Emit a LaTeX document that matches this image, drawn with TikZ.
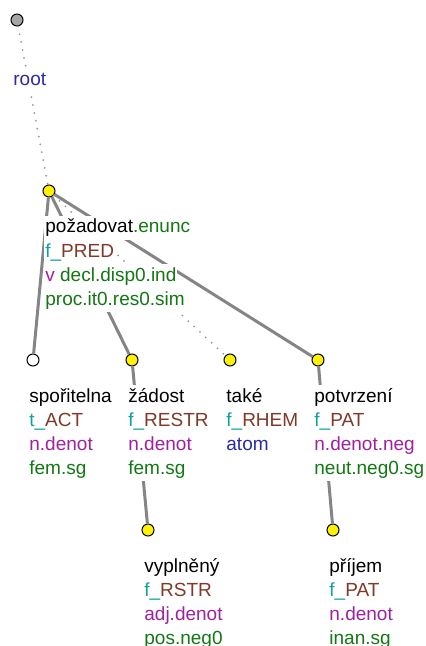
\documentclass[tikz,border=0pt]{standalone}
\usepackage{fontspec}
\setmainfont{Liberation Sans}
\usepackage{xcolor}
\usetikzlibrary{calc}
\definecolor{wordgreen}{HTML}{137813}
\definecolor{functeal}{HTML}{10A0A0}
\definecolor{funcbrown}{HTML}{803828}
\definecolor{sempurple}{HTML}{A020A0}
\definecolor{rootblue}{HTML}{2A2AA8}
\definecolor{edgegray}{HTML}{858585}

\newcommand{\fnlab}[2]{\textcolor{functeal}{#1\_}\textcolor{funcbrown}{#2}}

\begin{document}
\begin{tikzpicture}[
    x=0.5pt, y=-0.5pt,
    every node/.style={font=\fontsize{9.5}{12}\selectfont},
    tnode/.style={circle, draw, line width=0.5pt, minimum size=6pt,
                  inner sep=0pt, fill=yellow},
    lbl/.style={anchor=base west, fill=white, inner xsep=0.5pt, inner ysep=0pt,
                text height=8.5pt, text depth=3.5pt},
    tedge/.style={draw=edgegray, line width=1.5pt},
    tdots/.style={draw=edgegray!85, line width=1pt, line cap=round,
                  dash pattern=on 0pt off 4pt}
]
\useasboundingbox (0,0) rectangle (425,646);

% ── Tree nodes ────────────────────────────────────────────────────────────
\node[tnode, fill=black!35] (root) at (17, 20) {};
\node[tnode] (pozad)  at (49, 191) {};
\node[tnode, fill=white] (spor) at (33, 360) {};
\node[tnode] (zadost) at (132, 360) {};
\node[tnode] (take)   at (230, 360) {};
\node[tnode] (potvr)  at (318, 360) {};
\node[tnode] (vypln)  at (148, 530) {};
\node[tnode] (prijem) at (333, 530) {};

% ── Edges ─────────────────────────────────────────────────────────────────
\draw[tdots] (root) -- (pozad);
\draw[tedge] (pozad) -- (spor);
\draw[tedge] (pozad) -- (zadost);
\draw[tdots] (pozad) -- (take);
\draw[tedge] (pozad) -- (potvr);
\draw[tedge] (zadost) -- (vypln);
\draw[tedge] (potvr) -- (prijem);

% ── Labels ────────────────────────────────────────────────────────────────
\node[lbl, text=rootblue] (rootlbl) at ($(root)+(-5,66)$) {root};

\foreach \txt [count=\i from 0] in {%
    {požadovat\textcolor{wordgreen}{.enunc}},
    {\fnlab{f}{PRED}},
    {\textcolor{sempurple}{v} \textcolor{wordgreen}{decl.disp0.ind}},
    {\textcolor{wordgreen}{proc.it0.res0.sim}}}
  \node[lbl] (pozad\i) at ($(pozad)+(-5,42+24*\i)$) {\txt};

\foreach \txt [count=\i from 0] in {%
    {spořitelna}, {\fnlab{t}{ACT}},
    {\textcolor{sempurple}{n.denot}}, {\textcolor{wordgreen}{fem.sg}}}
  \node[lbl] (spor\i) at ($(spor)+(-5,42+24*\i)$) {\txt};

\foreach \txt [count=\i from 0] in {%
    {žádost}, {\fnlab{f}{RESTR}},
    {\textcolor{sempurple}{n.denot}}, {\textcolor{wordgreen}{fem.sg}}}
  \node[lbl] (zadost\i) at ($(zadost)+(-5,42+24*\i)$) {\txt};

\foreach \txt [count=\i from 0] in {%
    {také}, {\fnlab{f}{RHEM}}, {\textcolor{rootblue}{atom}}}
  \node[lbl] (take\i) at ($(take)+(-5,42+24*\i)$) {\txt};

\foreach \txt [count=\i from 0] in {%
    {potvrzení}, {\fnlab{f}{PAT}},
    {\textcolor{sempurple}{n.denot.neg}}, {\textcolor{wordgreen}{neut.neg0.sg}}}
  \node[lbl] (potvr\i) at ($(potvr)+(-5,42+24*\i)$) {\txt};

\foreach \txt [count=\i from 0] in {%
    {vyplněný}, {\fnlab{f}{RSTR}},
    {\textcolor{sempurple}{adj.denot}}, {\textcolor{wordgreen}{pos.neg0}}}
  \node[lbl] (vypln\i) at ($(vypln)+(-5,42+24*\i)$) {\txt};

\foreach \txt [count=\i from 0] in {%
    {příjem}, {\fnlab{f}{PAT}},
    {\textcolor{sempurple}{n.denot}}, {\textcolor{wordgreen}{inan.sg}}}
  \node[lbl] (prijem\i) at ($(prijem)+(-5,42+24*\i)$) {\txt};

\end{tikzpicture}
\end{document}
